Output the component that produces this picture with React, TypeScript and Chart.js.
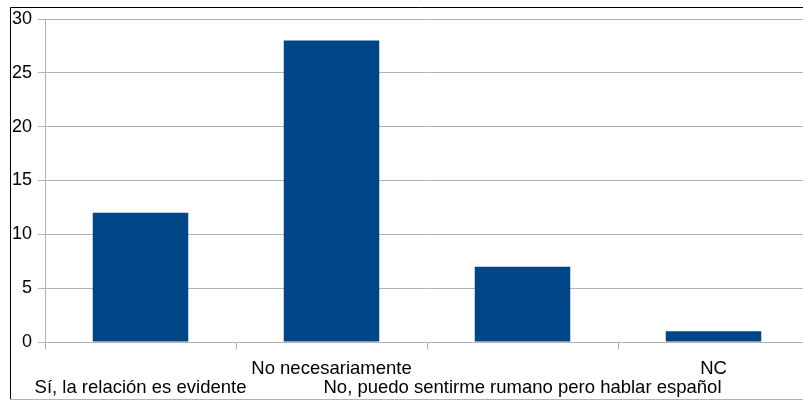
import React, { useEffect, useRef } from "react";
import { Chart, registerables } from "chart.js";

Chart.register(...registerables);

const categories: string[][] = [
  ["", "Sí, la relación es evidente"],
  ["No necesariamente", ""],
  ["", "No, puedo sentirme rumano pero hablar español"],
  ["NC", ""],
];
const values: number[] = [12, 28, 7, 1];
const yTicks = { min: 0, max: 30, step: 5 };

const GRID = "#b3b3b3";
const BAR = "#004586";
const FONT = { family: "'Liberation Sans', Arial, sans-serif", size: 18, lineHeight: "19px" as any };
const XFONT = { family: "'Liberation Sans', Arial, sans-serif", size: 18.5, lineHeight: "19px" as any };

const framePlugin = {
  id: "frame",
  afterDraw(chart: any) {
    const ctx = chart.ctx;
    ctx.save();
    ctx.lineWidth = 1;
    ctx.strokeStyle = "#000000";
    ctx.beginPath();
    ctx.moveTo(10.5, 400);
    ctx.lineTo(10.5, 7.5);
    ctx.lineTo(chart.width, 7.5);
    ctx.stroke();
    ctx.strokeStyle = "#b3b3b3";
    ctx.beginPath();
    ctx.moveTo(10, 399.5);
    ctx.lineTo(chart.width, 399.5);
    ctx.stroke();
    ctx.restore();
  },
};

export default function App() {
  const ref = useRef<HTMLCanvasElement | null>(null);
  useEffect(() => {
    if (!ref.current) return;
    const chart = new Chart(ref.current, {
      type: "bar",
      data: {
        labels: categories as any,
        datasets: [
          {
            data: values,
            backgroundColor: BAR,
            borderWidth: 0,
            barPercentage: 0.5,
            categoryPercentage: 1,
          },
        ],
      },
      options: {
        responsive: false,
        animation: false,
        layout: { padding: { left: 0, top: 19, right: 21, bottom: 0 } },
        plugins: { legend: { display: false }, tooltip: { enabled: false } },
        scales: {
          x: {
            offset: true,
            grid: {
              display: true,
              offset: true,
              drawOnChartArea: false,
              drawTicks: true,
              tickLength: 7,
              color: GRID,
            },
            border: { display: false },
            ticks: {
              autoSkip: false,
              maxRotation: 0,
              minRotation: 0,
              color: "#000000",
              font: XFONT,
              padding: 10,
            },
            afterFit: (s: any) => {
              s.height = 59;
            },
          },
          y: {
            min: yTicks.min,
            max: yTicks.max,
            grid: { color: GRID, tickLength: 7, drawTicks: true },
            border: { display: true, color: GRID },
            ticks: {
              stepSize: yTicks.step,
              color: "#000000",
              font: FONT,
              padding: 6,
            },
            afterFit: (s: any) => {
              s.width = 45;
            },
          },
        },
      },
      plugins: [framePlugin],
    });
    return () => chart.destroy();
  }, []);
  return (
    <div
      style={{
        position: "fixed",
        left: 0,
        top: 0,
        width: 803,
        height: 401,
        overflow: "hidden",
        background: "#ffffff",
      }}
    >
      <canvas ref={ref} width={830} height={401} style={{ display: "block" }} />
    </div>
  );
}
